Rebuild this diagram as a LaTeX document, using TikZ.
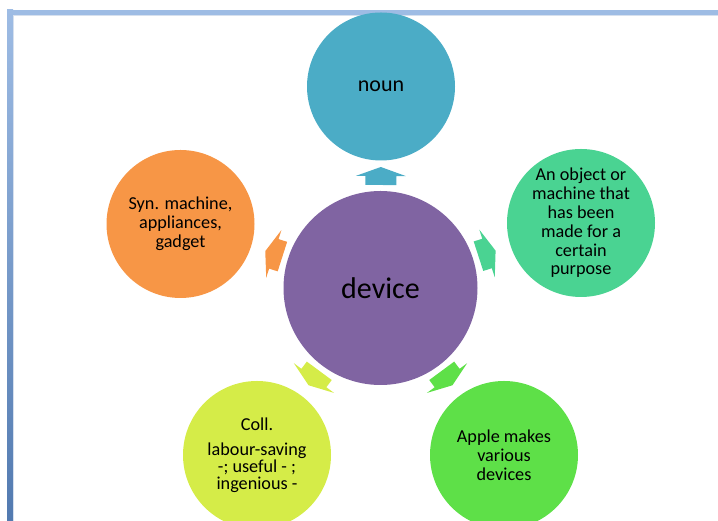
\documentclass[tikz,border=0pt]{standalone}
\usepackage{fontspec}
\setmainfont{Carlito}
\usepackage{xcolor}
\usepackage{tikz}
\usetikzlibrary{calc}

\definecolor{nounblue}{RGB}{75,172,198}
\definecolor{devpurple}{RGB}{128,100,162}
\definecolor{synorange}{RGB}{247,150,70}
\definecolor{defgreen}{RGB}{74,211,146}
\definecolor{colllime}{RGB}{213,236,72}
\definecolor{exgreen}{RGB}{94,224,72}
\definecolor{framelight}{RGB}{158,188,228}
\definecolor{framedark}{RGB}{82,122,176}
\definecolor{frameline}{RGB}{214,224,238}

\tikzset{
  bubble/.style={circle, inner sep=0pt, minimum size=148pt, align=center,
    text=black, font=\fontsize{18.2}{18.8}\selectfont},
  blockarrow/.pic={
    \fill[pic actions] (-9,-15.5) -- (0,-15.5) -- (0,-25) -- (9,0)
      -- (0,25) -- (0,15.5) -- (-9,15.5) -- cycle;
  }
}

\begin{document}
\begin{tikzpicture}[x=1pt,y=1pt]
  \def\armdist{112pt}
  \useasboundingbox (0,0) rectangle (718,521);

  % frame
  \fill[framelight] (7,506) rectangle (718,511);
  \shade[top color=framelight, bottom color=framedark] (7,0) rectangle (13,511);
  \draw[frameline, line width=1pt] (13.5,0) -- (13.5,505.5) -- (718,505.5);

  \coordinate (p_dev) at (380.5,233);
  \coordinate (p_noun) at (381,434.5);
  \coordinate (p_def) at (581,298);
  \coordinate (p_syn) at (180.5,297);
  \coordinate (p_coll) at (257,66);
  \coordinate (p_ex) at (504,66);

  \node[bubble, fill=devpurple, minimum size=194pt, font=\fontsize{30}{36}\selectfont]
    (c_dev) at (p_dev) {device};
  \node[bubble, fill=nounblue, font=\fontsize{22}{26}\selectfont] (c_noun) at (p_noun) {noun};
  \node[bubble, fill=defgreen] (c_def) at (p_def)
    {An object or\\ machine that\\ has been\\ made for a\\ certain\\ purpose};
  \node[bubble, fill=synorange] (c_syn) at (p_syn) {Syn. machine,\\ appliances,\\ gadget};
  \node[bubble, fill=colllime, font=\fontsize{18.2}{16.6}\selectfont] (c_coll) at (p_coll)
    {Coll.\\[9pt] labour-saving\\ -; useful - ;\\ ingenious -};
  \node[bubble, fill=exgreen] (c_ex) at (p_ex) {Apple makes\\ various\\ devices};

  % arrows out of the centre
  \foreach \target/\col in {c_noun/nounblue, c_def/defgreen, c_syn/synorange,
      c_coll/colllime, c_ex/exgreen}
    \path let \p1 = ($(\target)-(c_dev)$), \n1 = {atan2(\y1,\x1)} in
      ($(c_dev)!\armdist!(\target)$) pic[rotate=\n1, fill=\col] {blockarrow};

\end{tikzpicture}
\end{document}
